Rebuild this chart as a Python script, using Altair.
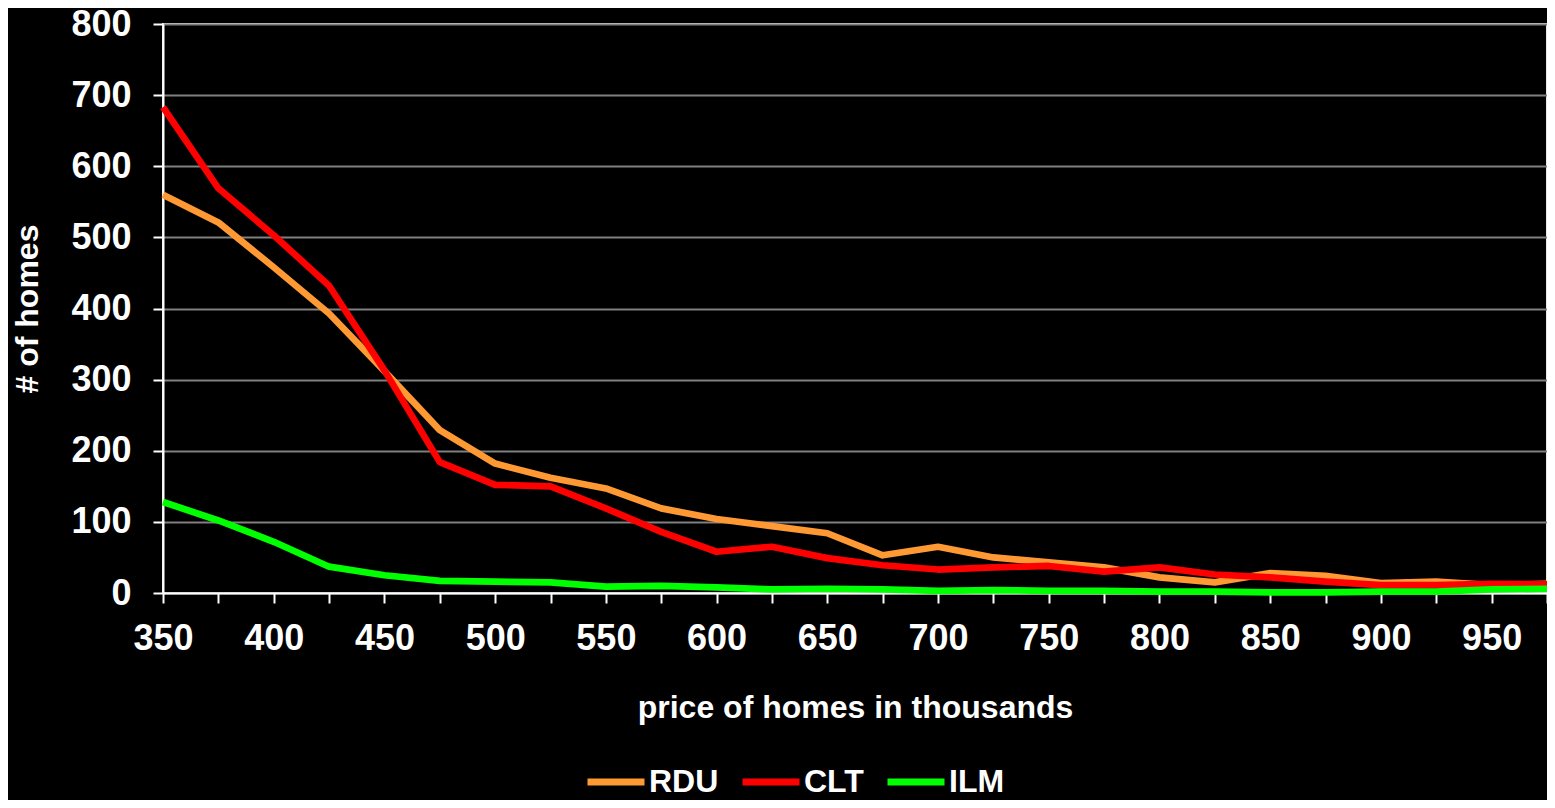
import altair as alt
import pandas as pd

prices = [350, 375, 400, 425, 450, 475, 500, 525, 550, 575, 600, 625, 650,
          675, 700, 725, 750, 775, 800, 825, 850, 875, 900, 925, 950, 975]
rdu = [560, 521, 458, 393, 312, 229, 182, 162, 147, 119, 104, 94, 84,
       53, 65, 50, 43, 36, 22, 15, 28, 24, 14, 16, 11, 13]
clt = [683, 569, 503, 432, 313, 184, 152, 150, 119, 86, 58, 65, 49,
       39, 33, 36, 38, 30, 36, 26, 22, 16, 11, 11, 13, 12]
ilm = [128, 102, 72, 37, 25, 17, 16, 15, 9, 10, 8, 5, 6,
       5, 3, 4, 3, 3, 2, 2, 1, 1, 2, 2, 5, 6]
markets = ["RDU", "CLT", "ILM"]
colors = ["#FF9933", "#FF0000", "#00FF00"]
y_ticks = [0, 100, 200, 300, 400, 500, 600, 700, 800]

rows = []
for name, vals in zip(markets, (rdu, clt, ilm)):
    for p, v in zip(prices, vals):
        rows.append({"price": p, "homes": v, "market": name})
df = pd.DataFrame(rows)

FONT = "Liberation Sans"
W, H = 1384, 569

chart = alt.Chart(df).mark_line(strokeWidth=6.7, strokeJoin="round").encode(
    x=alt.X(
        "price:Q",
        scale=alt.Scale(domain=[350, 975], nice=False, zero=False),
        axis=alt.Axis(
            values=prices,
            format="d",
            labelExpr="datum.value % 50 == 0 ? datum.label : ''",
            title="price of homes in thousands",
            grid=False,
            labelPadding=18,
            titleY=124,
            titleBaseline="alphabetic",
        ),
    ),
    y=alt.Y(
        "homes:Q",
        scale=alt.Scale(domain=[0, 800], nice=False),
        axis=alt.Axis(
            values=y_ticks,
            format="d",
            title="# of homes",
            grid=True,
            labelPadding=22,
            labelBaseline="middle",
            titleX=-126,
            titleY=H / 2,
            titleAngle=270,
            titleBaseline="alphabetic",
        ),
    ),
    color=alt.Color(
        "market:N",
        scale=alt.Scale(domain=markets, range=colors),
        legend=alt.Legend(
            title=None,
            orient="none",
            legendX=421,
            legendY=726,
            direction="horizontal",
            symbolType="stroke",
            symbolSize=3249,
            symbolStrokeWidth=7,
            labelFontSize=32,
            labelFont=FONT,
            labelFontWeight="bold",
            labelColor="white",
            labelOffset=1,
            columnPadding=9,
            padding=0,
        ),
    ),
).properties(
    width=W,
    height=H,
    background="black",
    padding={"left": 155, "top": 16, "right": 0, "bottom": 792 - 16 - H},
    autosize=alt.AutoSizeParams(type="none"),
).configure_view(
    stroke="#e8e8e8",
    strokeWidth=2,
).configure_axis(
    domainColor="white",
    domainWidth=2,
    tickColor="white",
    tickWidth=2,
    tickSize=10,
    labelColor="white",
    labelFont=FONT,
    labelFontWeight="bold",
    labelFontSize=36,
    labelFlush=False,
    labelOverlap=False,
    labelBound=False,
    gridColor="#808080",
    gridWidth=2,
    titleColor="white",
    titleFont=FONT,
    titleFontWeight="bold",
    titleFontSize=32,
)

chart.save("out.html", embed_options={"renderer": "svg", "actions": False})
